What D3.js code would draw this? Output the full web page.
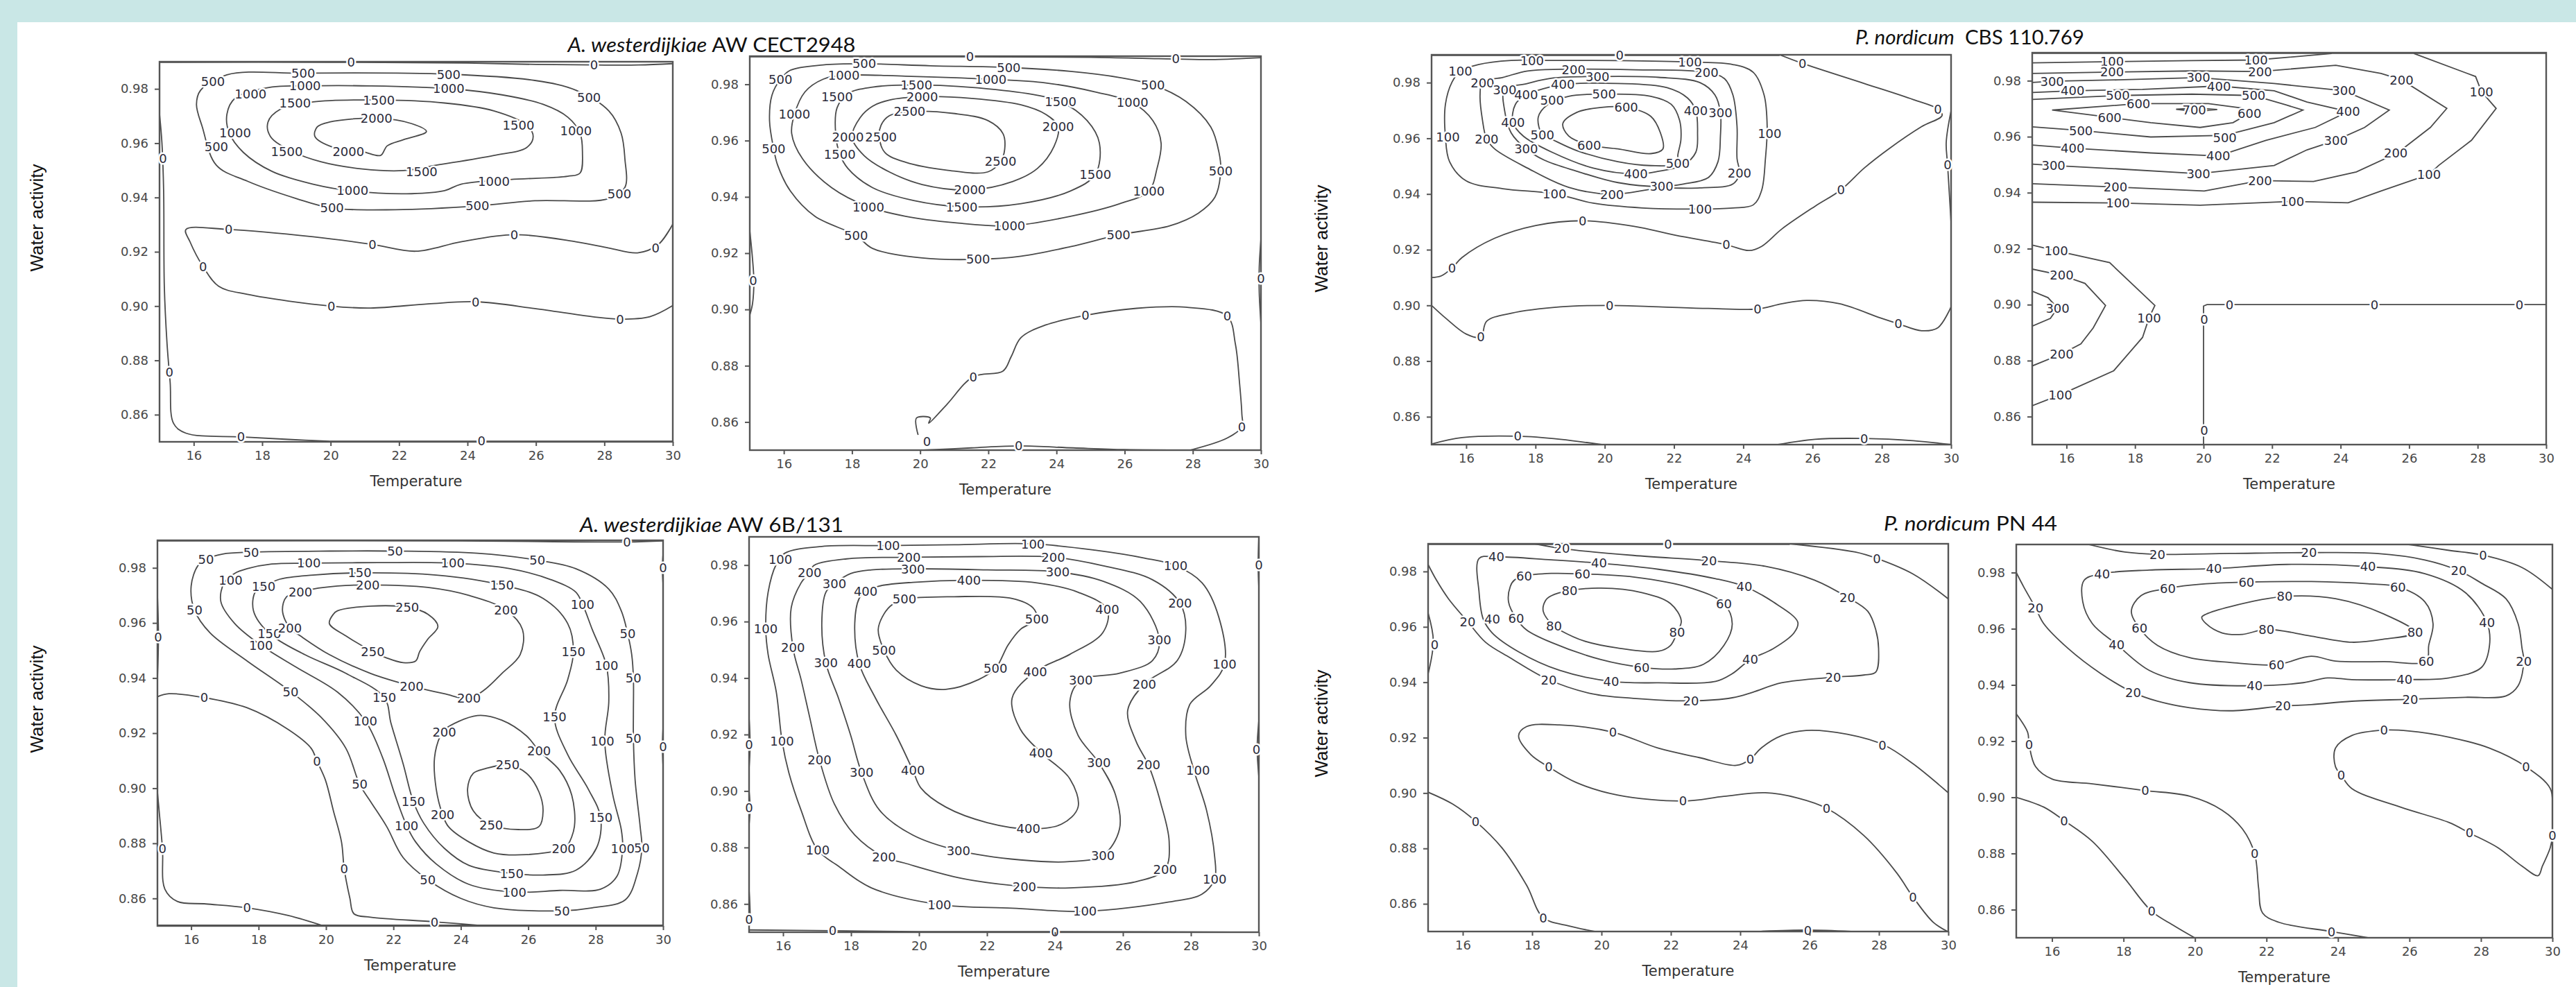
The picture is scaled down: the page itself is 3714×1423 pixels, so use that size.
<!DOCTYPE html>
<html><head><meta charset="utf-8">
<script src="https://cdn.jsdelivr.net/npm/d3@7"></script>
<style>body{margin:0;background:#fff}svg{display:block}</style>
</head><body>
<script>
// ---------------- DATA ----------------
const tempTicks = [16,18,20,22,24,26,28,30];
const awTicks = [0.86,0.88,0.90,0.92,0.94,0.96,0.98];
const tempDomain = [15,30];
const awDomain = [0.85,0.99];

const titles = [
  {it:"A. westerdijkiae", rest:" AW CECT2948"},
  {it:"P. nordicum", rest:"  CBS 110.769"},
  {it:"A. westerdijkiae", rest:" AW 6B/131"},
  {it:"P. nordicum", rest:" PN 44"}
];

// Panel A : A. westerdijkiae CECT2948 (left)
const A_contours = [
 {lv:0,p:[[15,0.9898],[20,0.9898],[24,0.9895],[26,0.989],[27.7,0.9888],[29,0.9888],[30,0.9893]]},
 {lv:500,c:1,p:[[16.97,0.9852],[19.2,0.9858],[23.45,0.9854],[25.97,0.9831],[27.17,0.9795],[28.13,0.9719],[28.49,0.9637],[28.6,0.9543],[28.6,0.9437],[28.13,0.9396],[25.97,0.9388],[24.29,0.9369],[21.89,0.9355],[20.04,0.9361],[19.0,0.9396],[17.57,0.946],[16.66,0.9519],[16.25,0.966],[16.08,0.9743],[16.2,0.9795]]},
 {lv:1000,c:1,p:[[18.29,0.9807],[19.25,0.9811],[21.17,0.9811],[23.45,0.9801],[25.01,0.9778],[26.21,0.9743],[26.93,0.9696],[27.29,0.9637],[27.36,0.9566],[27.29,0.949],[26.93,0.9478],[25.25,0.9466],[23.81,0.9449],[23.33,0.9425],[22.37,0.9414],[20.69,0.9423],[19.49,0.9449],[18.29,0.9496],[17.45,0.9566],[17.04,0.9637],[16.97,0.9707],[17.21,0.9766]]},
 {lv:1500,c:1,p:[[19.49,0.9752],[21.41,0.9759],[23.33,0.9748],[24.77,0.9719],[25.73,0.9666],[25.92,0.9625],[25.73,0.9584],[24.77,0.9555],[23.09,0.9519],[22.13,0.9499],[20.93,0.9505],[19.73,0.9531],[18.89,0.9569],[18.24,0.9625],[18.17,0.9678],[18.53,0.9725]]},
 {lv:2000,c:1,p:[[19.97,0.9678],[21.34,0.9692],[22.37,0.9672],[22.8,0.9643],[22.13,0.9613],[21.65,0.959],[21.46,0.9555],[20.93,0.9569],[20.09,0.9584],[19.54,0.9625],[19.61,0.966]]},
 {lv:0,p:[[30,0.9302],[29.57,0.9226],[28.97,0.9196],[28.13,0.9214],[27.17,0.9237],[25.37,0.9263],[23.81,0.9237],[22.49,0.9202],[21.22,0.9227],[19.49,0.9255],[17.02,0.9282],[15.77,0.9282],[15.89,0.9237],[16.27,0.9146],[16.73,0.9073],[17.57,0.9043],[20.02,0.9],[21.17,0.8993],[22.85,0.9008],[24.24,0.9016],[25.97,0.8991],[27.65,0.8961],[28.46,0.8952],[29.33,0.8961],[30,0.9002]]},
 {lv:0,p:[[15,0.9707],[15.07,0.9602],[15.12,0.9425],[15.14,0.9073],[15.22,0.8861],[15.31,0.872],[15.41,0.8568],[15.77,0.8532],[17.38,0.8518],[18.77,0.8509],[19.97,0.8502]]},
 {lv:0,p:[[19.97,0.8502],[24.4,0.8502],[30,0.8502]]}
];
const A_labels = [
 [20.6,0.9898,0],[27.7,0.9888,0],
 [16.56,0.9827,500],[19.2,0.9858,500],[23.45,0.9854,500],[27.55,0.9768,500],[28.44,0.9414,500],[24.29,0.9369,500],[20.04,0.9361,500],[16.66,0.9587,500],
 [17.66,0.978,1000],[19.25,0.9811,1000],[23.45,0.9801,1000],[27.17,0.9646,1000],[24.77,0.946,1000],[20.64,0.9425,1000],[17.21,0.9639,1000],
 [18.96,0.9748,1500],[21.41,0.9759,1500],[25.49,0.9666,1500],[18.72,0.9569,1500],[22.66,0.9496,1500],
 [21.34,0.9692,2000],[20.52,0.9569,2000],
 [17.02,0.9282,0],[21.22,0.9227,0],[25.37,0.9263,0],[29.5,0.9214,0],[16.27,0.9146,0],[20.02,0.9,0],[24.24,0.9016,0],[28.46,0.8952,0],
 [15.1,0.9543,0],[15.29,0.8756,0],[17.38,0.8518,0],[24.41,0.8503,0]
];

// Panel B : A. westerdijkiae CECT2948 (right)
const B_contours = [
 {lv:0,p:[[15,0.9898],[21,0.9898],[25,0.9896],[27,0.9891],[28.5,0.9888],[30,0.9895]]},
 {lv:500,c:1,p:[[16.19,0.985],[17.15,0.9869],[18.36,0.9873],[20.3,0.9866],[22.6,0.986],[24.41,0.9846],[25.86,0.9824],[26.83,0.9798],[27.8,0.9739],[28.53,0.9648],[28.77,0.9557],[28.82,0.9493],[28.65,0.9399],[28.16,0.9342],[27.32,0.9297],[25.82,0.9265],[24.41,0.9223],[22.96,0.9189],[21.7,0.9178],[20.06,0.9183],[18.6,0.9217],[18.12,0.9263],[16.91,0.9331],[16.19,0.9421],[15.82,0.9512],[15.7,0.9572],[15.58,0.9671],[15.65,0.9761],[15.9,0.9818]]},
 {lv:1000,c:1,p:[[17.15,0.9818],[17.76,0.9832],[19.57,0.9829],[22.07,0.9818],[23.69,0.9805],[25.14,0.9773],[26.23,0.9735],[26.83,0.9671],[27.07,0.9591],[26.95,0.9501],[26.71,0.9421],[25.86,0.9376],[24.41,0.9331],[22.62,0.9297],[21.02,0.9308],[19.57,0.9331],[18.48,0.9365],[17.4,0.9433],[16.55,0.9535],[16.23,0.9625],[16.31,0.9693],[16.62,0.9773]]},
 {lv:1500,c:1,p:[[18.6,0.979],[19.89,0.9798],[21.99,0.9784],[23.44,0.9761],[24.12,0.9739],[24.9,0.9671],[25.26,0.9591],[25.14,0.948],[24.41,0.9421],[22.96,0.9376],[21.22,0.9365],[19.81,0.9387],[18.6,0.9433],[17.88,0.9501],[17.64,0.9552],[17.52,0.9625],[17.56,0.9716],[17.88,0.9767]]},
 {lv:2000,c:1,p:[[19.09,0.9744],[20.06,0.9756],[21.51,0.975],[22.96,0.9727],[23.69,0.9693],[24.05,0.965],[23.93,0.958],[23.44,0.9501],[22.72,0.9455],[21.46,0.9425],[20.06,0.9444],[19.09,0.9489],[18.36,0.9546],[18.0,0.9612],[18.24,0.9682],[18.6,0.9722]]},
 {lv:2500,c:1,p:[[19.09,0.9688],[19.69,0.9703],[21.02,0.9696],[21.99,0.9671],[22.43,0.9625],[22.48,0.9569],[22.36,0.9526],[21.99,0.9489],[20.78,0.9495],[19.57,0.9523],[18.97,0.9557],[18.8,0.9612],[18.85,0.9654]]},
 {lv:0,p:[[15,0.928],[15.08,0.918],[15.12,0.91],[15.08,0.902],[15,0.898]]},
 {lv:0,p:[[30,0.925],[29.95,0.915],[29.95,0.906],[30,0.895]]},
 {lv:0,p:[[19.94,0.8554],[19.89,0.8614],[20.3,0.8614],[20.25,0.8596],[20.78,0.8662],[21.56,0.8761],[22.43,0.8781],[22.67,0.8832],[22.96,0.89],[23.69,0.8945],[24.85,0.8979],[26.35,0.9004],[27.8,0.9008],[29.01,0.8976],[29.25,0.8877],[29.37,0.8741],[29.44,0.8628],[29.44,0.8583],[29.01,0.8543],[27.92,0.85]]},
 {lv:0,p:[[20.1,0.85],[21.5,0.8508],[22.9,0.8515],[24.5,0.8508],[26,0.8502],[27.9,0.85]]}
];
const B_labels = [
 [21.46,0.9898,0],[27.5,0.9891,0],
 [18.36,0.9873,500],[22.6,0.986,500],[15.9,0.9818,500],[26.83,0.9798,500],[15.7,0.9572,500],[28.82,0.9493,500],[18.12,0.9263,500],[25.82,0.9265,500],[21.7,0.9178,500],
 [17.76,0.9832,1000],[22.07,0.9818,1000],[26.23,0.9735,1000],[16.31,0.9693,1000],[26.71,0.9421,1000],[18.48,0.9365,1000],[22.62,0.9297,1000],
 [19.89,0.9798,1500],[17.56,0.9756,1500],[24.12,0.9739,1500],[17.64,0.9552,1500],[25.14,0.948,1500],[21.22,0.9365,1500],
 [20.06,0.9756,2000],[24.05,0.965,2000],[17.88,0.9612,2000],[21.46,0.9425,2000],
 [19.69,0.9703,2500],[18.85,0.9612,2500],[22.36,0.9526,2500],
 [15.1,0.9102,0],[30,0.9109,0],
 [20.2,0.8531,0],[21.56,0.8761,0],[24.85,0.8979,0],[29.01,0.8976,0],[29.44,0.8583,0],[22.89,0.8515,0]
];

// Panel C : P. nordicum CBS 110.769 (left)
const C_contours = [
 {lv:0,p:[[15,0.9898],[20,0.9898],[25.05,0.9898]]},
 {lv:100,c:1,p:[[16.35,0.9865],[17.3,0.988],[18.25,0.988],[20.38,0.9879],[22.46,0.9874],[23.7,0.9865],[24.29,0.9837],[24.6,0.9756],[24.69,0.9642],[24.64,0.9527],[24.53,0.9413],[24.29,0.9361],[23.7,0.935],[22.75,0.9346],[21.09,0.935],[19.67,0.9367],[18.55,0.9401],[17.06,0.9419],[16.0,0.9447],[15.52,0.9516],[15.4,0.9605],[15.4,0.9722],[15.59,0.9802],[15.83,0.9841]]},
 {lv:200,c:1,p:[[17.06,0.9819],[17.77,0.9842],[18.72,0.9848],[20.85,0.9846],[22.94,0.9837],[23.46,0.9814],[23.7,0.9756],[23.82,0.9642],[23.82,0.9527],[23.89,0.9475],[23.7,0.9436],[22.75,0.9422],[21.56,0.942],[20.21,0.9399],[18.96,0.9424],[17.77,0.9493],[16.82,0.9562],[16.59,0.9598],[16.47,0.9665],[16.4,0.9756],[16.47,0.9802]]},
 {lv:300,c:1,p:[[17.77,0.9797],[18.48,0.9816],[19.79,0.9822],[21.56,0.9819],[22.75,0.98],[23.18,0.9756],[23.34,0.9693],[23.34,0.9608],[23.27,0.9516],[22.99,0.9459],[22.27,0.9436],[21.64,0.9427],[20.38,0.9441],[19.19,0.9482],[18.25,0.9522],[17.73,0.9562],[17.3,0.9619],[17.11,0.9699],[17.11,0.9774]]},
 {lv:400,c:1,p:[[18.25,0.9779],[18.79,0.9793],[20.38,0.9797],[21.8,0.9782],[22.39,0.9745],[22.63,0.9699],[22.68,0.9619],[22.63,0.955],[22.27,0.9504],[21.56,0.9482],[20.9,0.9472],[19.67,0.9493],[18.48,0.955],[17.65,0.9608],[17.35,0.9656],[17.42,0.9722],[17.73,0.9756]]},
 {lv:500,c:1,p:[[18.96,0.9751],[19.98,0.9759],[21.33,0.9751],[21.92,0.9722],[22.16,0.9665],[22.2,0.9596],[22.11,0.9539],[22.11,0.951],[21.33,0.9502],[20.38,0.9516],[19.19,0.9556],[18.48,0.9596],[18.2,0.9613],[18.08,0.9676],[18.36,0.9722]]},
 {lv:600,c:1,p:[[19.19,0.9693],[19.9,0.9711],[20.62,0.9711],[21.33,0.9679],[21.61,0.9619],[21.68,0.9562],[21.33,0.9545],[20.38,0.9562],[19.55,0.9576],[18.96,0.9608],[18.79,0.9653]]},
 {lv:0,p:[[25.05,0.99],[25.71,0.9869],[27.49,0.9797],[28.91,0.9739],[29.62,0.9705],[29.74,0.9682],[29.15,0.9642],[28.2,0.9562],[27.49,0.9493],[26.82,0.9415],[26.07,0.9356],[25.12,0.9275],[24.53,0.9212],[24.17,0.9197],[23.51,0.9218],[22.04,0.9252],[20.85,0.9284],[19.36,0.9304],[18.01,0.9287],[16.82,0.9241],[15.88,0.9172],[15.59,0.9134],[15.28,0.9106],[15.0,0.91]]},
 {lv:0,p:[[30,0.9699],[29.86,0.9585],[29.9,0.9504],[30,0.9297]]},
 {lv:0,p:[[15,0.9],[15.4,0.8955],[16.0,0.8897],[16.42,0.8886],[16.59,0.8943],[17.3,0.8972],[18.72,0.8995],[20.14,0.9],[21.56,0.8995],[22.99,0.8989],[24.41,0.8987],[25.12,0.9006],[25.83,0.9018],[26.78,0.9006],[27.96,0.8955],[28.48,0.8934],[29.15,0.8909],[29.62,0.892],[30,0.8995]]},
 {lv:0,p:[[15,0.8502],[15.88,0.8525],[17.49,0.853],[18.72,0.8519],[19.91,0.85]]},
 {lv:0,p:[[25.0,0.85],[26.07,0.8519],[27.49,0.8522],[28.91,0.8514],[30,0.85]]}
];
const C_labels = [
 [20.43,0.9898,0],
 [17.9,0.988,100],[22.46,0.9874,100],[15.83,0.9841,100],[15.47,0.9605,100],[24.76,0.9617,100],[18.55,0.9401,100],[22.75,0.9346,100],
 [19.1,0.9847,200],[22.94,0.9837,200],[16.47,0.98,200],[16.59,0.9598,200],[23.89,0.9475,200],[20.21,0.9399,200],
 [19.79,0.9822,300],[17.11,0.9774,300],[23.34,0.9693,300],[17.73,0.9562,300],[21.64,0.9427,300],
 [18.79,0.9793,400],[17.73,0.9756,400],[22.63,0.9699,400],[17.35,0.9656,400],[20.9,0.9472,400],
 [19.98,0.9759,500],[18.48,0.9736,500],[18.2,0.9613,500],[22.11,0.951,500],
 [20.62,0.9711,600],[19.55,0.9576,600],
 [25.71,0.9869,0],[29.62,0.9705,0],[26.82,0.9415,0],[23.51,0.9218,0],[19.36,0.9304,0],[15.59,0.9134,0],[29.9,0.9504,0],
 [16.42,0.8887,0],[20.14,0.9,0],[24.41,0.8987,0],[28.48,0.8934,0],[17.49,0.853,0],[27.49,0.8522,0]
];

// Panel D : P. nordicum CBS 110.769 (right)
const D_contours = [
 {lv:0,p:[[15,0.9898],[30,0.9898]]},
 {lv:100,p:[[15,0.9864],[17.33,0.9868],[19.66,0.9872],[21.53,0.9874],[23.74,0.9897]]},
 {lv:100,p:[[26.14,0.9897],[27.94,0.9815],[28.11,0.9761],[28.54,0.9701],[27.82,0.9587],[26.86,0.9497],[26.58,0.9465],[25.18,0.9406],[24.22,0.9364],[22.59,0.9369],[19.9,0.9355],[17.5,0.9363],[15,0.9366]]},
 {lv:200,p:[[15,0.9826],[17.33,0.9831],[19.66,0.9835],[21.65,0.9833],[23.86,0.9855],[25.18,0.9826],[25.78,0.9803],[27.1,0.9701],[26.62,0.9633],[25.66,0.9542],[24.46,0.9474],[23.21,0.944],[21.65,0.9443],[20.02,0.9406],[17.43,0.942],[15,0.9432]]},
 {lv:300,p:[[15,0.9794],[15.58,0.9798],[17.5,0.9803],[19.85,0.9811],[22.06,0.979],[24.1,0.9764],[25.42,0.9695],[24.7,0.9633],[23.86,0.9587],[23.02,0.9553],[22.06,0.9497],[19.85,0.9468],[17.5,0.9485],[15.62,0.9497],[15,0.9502]]},
 {lv:400,p:[[15,0.9758],[16.18,0.9764],[18.22,0.9769],[20.45,0.9781],[22.06,0.9764],[23.02,0.9724],[24.22,0.969],[23.26,0.9633],[21.82,0.9587],[20.43,0.9531],[18.46,0.9542],[16.18,0.9559],[15,0.957]]},
 {lv:500,p:[[15,0.9733],[17.5,0.9747],[19.66,0.9752],[21.46,0.9747],[22.42,0.9713],[22.9,0.9695],[22.06,0.965],[20.62,0.9605],[18.46,0.9599],[16.42,0.9622],[15,0.9635]]},
 {lv:600,c:1,p:[[15.58,0.9695],[18.1,0.9718],[20.14,0.9718],[21.1,0.9703],[21.34,0.9684],[20.86,0.965],[19.9,0.9633],[18.46,0.965],[17.26,0.9669]]},
 {lv:700,c:1,p:[[19.2,0.9698],[19.8,0.9702],[20.4,0.9697],[19.8,0.969]]},
 {lv:100,p:[[15,0.9213],[15.7,0.9192],[17.26,0.915],[18.58,0.8997],[18.41,0.8953],[18.22,0.8883],[17.38,0.8764],[15.82,0.8678],[15,0.8639]]},
 {lv:200,p:[[15,0.9127],[15.86,0.9105],[16.54,0.9076],[17.14,0.8997],[16.78,0.8917],[16.42,0.886],[15.86,0.8824],[15,0.8781]]},
 {lv:300,p:[[15,0.9048],[15.46,0.9025],[15.74,0.8988],[15.53,0.8951],[15,0.8923]]},
 {lv:0,p:[[20,0.85],[20,0.8995],[20.1,0.9],[30,0.9]]}
];
const D_labels = [
 [17.33,0.9868,100],[21.53,0.9874,100],[28.11,0.9761,100],[26.58,0.9465,100],[22.59,0.9369,100],[17.5,0.9363,100],
 [17.33,0.9831,200],[21.65,0.9833,200],[25.78,0.9803,200],[25.61,0.9542,200],[21.65,0.9443,200],[17.43,0.942,200],
 [15.58,0.9798,300],[19.85,0.9811,300],[24.1,0.9764,300],[23.86,0.9587,300],[19.85,0.9468,300],[15.62,0.9497,300],
 [16.18,0.9764,400],[20.45,0.9781,400],[24.22,0.969,400],[20.43,0.9531,400],[16.18,0.9559,400],
 [17.5,0.9747,500],[21.46,0.9747,500],[20.62,0.9596,500],[16.42,0.9622,500],
 [18.1,0.9718,600],[21.34,0.9684,600],[17.26,0.9669,600],
 [19.73,0.9695,700],
 [15.7,0.9192,100],[18.41,0.8953,100],[15.82,0.8678,100],
 [15.86,0.9105,200],[15.86,0.8824,200],[15.74,0.8988,300],
 [20.02,0.8948,0],[20.02,0.8551,0],[20.76,0.9,0],[24.99,0.9,0],[29.22,0.9,0]
];

// Panel E : A. westerdijkiae 6B/131 (left)
const E_contours = [
 {lv:0,p:[[15,0.9898],[24,0.9898],[28.9,0.9894],[30,0.9898]]},
 {lv:50,c:1,p:[[16.44,0.9831],[16.93,0.985],[17.78,0.9857],[20.1,0.9861],[22.05,0.9861],[24.49,0.9853],[26.27,0.9828],[27.41,0.9797],[28.39,0.9723],[28.76,0.9644],[28.95,0.9561],[29.07,0.9485],[29.12,0.94],[29.12,0.9281],[29.12,0.9181],[29.17,0.9031],[29.32,0.8861],[29.37,0.8784],[29.24,0.8691],[28.88,0.8595],[27.9,0.8566],[27.0,0.8555],[24.98,0.8566],[24.0,0.86],[23.02,0.8668],[22.29,0.8748],[21.8,0.8861],[21.32,0.8952],[21.0,0.9014],[20.59,0.9145],[19.85,0.9258],[18.95,0.9351],[17.66,0.9462],[16.56,0.9564],[16.1,0.9646],[16.0,0.9734],[16.2,0.9808]]},
 {lv:100,c:1,p:[[17.66,0.9797],[18.39,0.9814],[19.49,0.9817],[21.56,0.9819],[23.76,0.9817],[25.46,0.9797],[26.68,0.9757],[27.41,0.9712],[27.61,0.9668],[27.9,0.9576],[28.32,0.9445],[28.39,0.9315],[28.27,0.917],[28.51,0.8975],[28.76,0.885],[28.8,0.8782],[28.63,0.868],[28.15,0.8634],[26.93,0.8629],[25.59,0.8623],[24.24,0.8651],[23.27,0.8725],[22.66,0.8805],[22.39,0.8865],[22.05,0.8975],[21.68,0.9111],[21.17,0.9244],[20.34,0.9349],[19.12,0.9439],[18.07,0.9519],[17.29,0.9598],[16.88,0.9678],[16.98,0.9746],[17.29,0.978]]},
 {lv:150,c:1,p:[[18.63,0.9759],[19.61,0.9774],[21.0,0.9782],[23.27,0.9774],[25.22,0.9738],[26.44,0.9689],[27.17,0.9598],[27.34,0.9496],[27.17,0.9394],[26.78,0.9258],[27.17,0.9122],[27.78,0.8997],[28.15,0.8893],[28.02,0.8782],[27.41,0.8702],[26.44,0.8685],[25.51,0.8691],[24.24,0.872],[23.51,0.8782],[22.9,0.8873],[22.59,0.8952],[22.29,0.9088],[21.93,0.9235],[21.73,0.9329],[20.59,0.9417],[19.37,0.9485],[18.32,0.9562],[17.85,0.9644],[17.9,0.9712],[18.15,0.9732]]},
 {lv:200,c:1,p:[[19.61,0.9723],[20.34,0.9734],[21.24,0.9738],[23.02,0.9729],[24.24,0.97],[25.34,0.9647],[25.83,0.9576],[25.76,0.9485],[25.22,0.9417],[24.73,0.936],[24.24,0.9326],[23.51,0.9343],[22.54,0.9371],[21.32,0.9417],[20.1,0.9485],[19.24,0.9553],[18.93,0.9581],[18.71,0.9644],[18.83,0.9695],[19.24,0.9712]]},
 {lv:250,c:1,p:[[20.34,0.9644],[21.32,0.9661],[22.41,0.9657],[23.02,0.9632],[23.32,0.9587],[23.02,0.9541],[22.78,0.9496],[22.66,0.9462],[22.29,0.9456],[21.8,0.9473],[21.39,0.9496],[20.59,0.9553],[20.1,0.9598],[20.22,0.9632]]},
 {lv:200,c:1,p:[[23.51,0.9213],[24.49,0.9264],[25.22,0.9247],[25.95,0.919],[26.32,0.9136],[26.93,0.9065],[27.29,0.8975],[27.37,0.8861],[27.17,0.8793],[27.05,0.878],[25.95,0.8759],[24.98,0.8765],[24.24,0.8805],[23.63,0.8861],[23.46,0.8904],[23.27,0.8997],[23.22,0.9111],[23.39,0.919]]},
 {lv:250,c:1,p:[[24.73,0.9071],[25.39,0.9085],[25.95,0.9054],[26.32,0.8986],[26.44,0.8918],[26.32,0.8861],[25.71,0.885],[24.9,0.8867],[24.37,0.8918],[24.2,0.8997],[24.37,0.9054]]},
 {lv:0,p:[[30,0.985],[29.98,0.98],[30,0.974]]},
 {lv:0,p:[[30,0.922],[29.98,0.915],[30,0.908]]},
 {lv:0,p:[[15,0.97],[15.03,0.955],[15,0.94]]},
 {lv:0,p:[[15,0.9332],[15.34,0.9343],[16.39,0.9329],[17.66,0.9292],[18.88,0.9213],[19.56,0.9145],[19.73,0.9099],[19.98,0.9031],[20.22,0.8918],[20.46,0.8805],[20.54,0.8708],[20.71,0.86],[20.83,0.8544],[21.32,0.8532],[23.22,0.8515],[24.98,0.8498]]},
 {lv:0,p:[[15,0.8986],[15.05,0.8918],[15.15,0.878],[15.22,0.8634],[15.59,0.8589],[16.44,0.858],[17.66,0.8566],[18.88,0.8538],[19.98,0.8498]]},
 {lv:0,p:[[15,0.8503],[30,0.8503]]}
];
const E_labels = [
 [28.93,0.9894,0],[30,0.98,0],[30,0.915,0],[15.02,0.955,0],
 [17.78,0.9857,50],[22.05,0.9861,50],[16.44,0.9831,50],[26.27,0.9828,50],[16.1,0.9646,50],[28.95,0.9561,50],[29.12,0.94,50],[18.95,0.9351,50],[29.12,0.9181,50],[21.0,0.9014,50],[29.37,0.8784,50],[23.02,0.8668,50],[27.0,0.8555,50],
 [19.49,0.9817,100],[23.76,0.9817,100],[17.17,0.9755,100],[27.61,0.9668,100],[18.07,0.9519,100],[28.32,0.9445,100],[21.17,0.9244,100],[28.2,0.917,100],[22.39,0.8865,100],[28.8,0.8782,100],[25.59,0.8623,100],
 [21.0,0.9782,150],[18.15,0.9732,150],[25.22,0.9738,150],[18.32,0.9562,150],[27.34,0.9496,150],[21.73,0.9329,150],[26.78,0.9258,150],[22.59,0.8952,150],[28.15,0.8893,150],[25.51,0.8691,150],
 [21.24,0.9738,200],[19.24,0.9712,200],[25.34,0.9647,200],[18.93,0.9581,200],[22.54,0.9371,200],[24.24,0.9326,200],
 [22.41,0.9657,250],[21.39,0.9496,250],
 [23.51,0.9204,200],[26.32,0.9136,200],[27.05,0.878,200],[23.46,0.8904,200],
 [25.39,0.9085,250],[24.9,0.8867,250],
 [16.39,0.9329,0],[19.73,0.9099,0],[20.54,0.8708,0],[23.22,0.8515,0],[15.15,0.878,0],[17.66,0.8566,0]
];

// Panel F : A. westerdijkiae 6B/131 (right)
const F_contours = [
 {lv:100,c:1,p:[[16.05,0.9842],[17.14,0.9866],[19.09,0.9869],[21.03,0.9872],[23.35,0.9875],[25.17,0.9853],[26.63,0.9825],[27.55,0.9798],[28.33,0.9737],[28.82,0.9616],[28.99,0.945],[28.58,0.9373],[27.97,0.9307],[27.85,0.9197],[28.09,0.9073],[28.46,0.8932],[28.7,0.8767],[28.7,0.8689],[28.33,0.8635],[27.36,0.8607],[24.88,0.8574],[22.74,0.8585],[20.6,0.8598],[18.6,0.8657],[17.63,0.8734],[17.02,0.8791],[16.53,0.8932],[16.17,0.9065],[15.97,0.9177],[15.8,0.9351],[15.56,0.9484],[15.49,0.9575],[15.56,0.9704],[15.8,0.9803]]},
 {lv:200,c:1,p:[[16.9,0.9798],[17.87,0.9822],[19.7,0.9828],[21.76,0.983],[23.95,0.9828],[25.41,0.9798],[26.87,0.9748],[27.68,0.9665],[27.85,0.9572],[27.6,0.9462],[26.63,0.9379],[26.14,0.9285],[26.39,0.9175],[26.75,0.9092],[27.12,0.8954],[27.36,0.8822],[27.24,0.8723],[26.39,0.8679],[24.44,0.8657],[23.1,0.8662],[21.28,0.869],[19.57,0.8745],[18.97,0.8767],[18.11,0.8844],[17.51,0.8954],[17.07,0.9111],[16.78,0.9263],[16.53,0.9395],[16.29,0.9508],[16.24,0.9649],[16.53,0.9737],[16.78,0.9774]]},
 {lv:300,c:1,p:[[17.99,0.977],[18.6,0.9783],[19.82,0.9787],[22.01,0.9783],[24.08,0.9776],[25.41,0.9743],[26.51,0.9671],[27.07,0.9535],[26.87,0.9462],[25.9,0.9417],[24.76,0.9392],[24.44,0.9318],[24.68,0.9197],[25.29,0.91],[25.78,0.8987],[25.9,0.8866],[25.41,0.8772],[24.44,0.875],[22.98,0.8756],[21.16,0.8789],[19.82,0.8844],[18.84,0.8932],[18.31,0.9065],[17.99,0.9197],[17.63,0.9329],[17.26,0.9453],[17.14,0.9594],[17.26,0.9704],[17.51,0.9734]]},
 {lv:400,c:1,p:[[18.84,0.9726],[19.82,0.9739],[21.47,0.9746],[23.47,0.9737],[24.68,0.9704],[25.54,0.9643],[25.41,0.9561],[24.44,0.9484],[23.42,0.9423],[22.74,0.9329],[22.98,0.9219],[23.59,0.9136],[24.44,0.9043],[24.68,0.8943],[24.2,0.8883],[23.22,0.8866],[22.01,0.8888],[20.79,0.8943],[20.06,0.901],[19.82,0.9073],[19.33,0.9197],[18.72,0.9329],[18.24,0.9451],[18.11,0.9594],[18.24,0.9682],[18.43,0.9707]]},
 {lv:500,c:1,p:[[19.21,0.966],[19.57,0.9679],[21.03,0.9688],[22.74,0.9682],[23.35,0.9649],[23.47,0.961],[22.98,0.9572],[22.62,0.9517],[22.25,0.9434],[21.76,0.9395],[20.79,0.936],[20.06,0.9373],[19.33,0.9428],[18.97,0.9498],[18.8,0.9572],[18.97,0.9627]]},
 {lv:0,p:[[30,0.99],[29.98,0.98],[30,0.972]]},
 {lv:0,p:[[30,0.925],[29.95,0.915],[30,0.905]]},
 {lv:0,p:[[15,0.926],[15.03,0.9164],[15,0.908]]},
 {lv:0,p:[[15,0.9],[15.03,0.894],[15,0.888]]},
 {lv:0,p:[[15,0.865],[15.03,0.855],[15,0.852]]},
 {lv:0,p:[[15,0.8508],[17.5,0.8505],[20,0.8502],[24,0.8502],[30,0.85]]}
];
const F_labels = [
 [19.09,0.9869,100],[23.35,0.9875,100],[15.92,0.982,100],[27.55,0.9798,100],[15.49,0.9575,100],[28.99,0.945,100],[15.97,0.9177,100],[28.21,0.9073,100],[17.02,0.8791,100],[28.7,0.8689,100],[20.6,0.8598,100],[24.88,0.8574,100],
 [19.7,0.9828,200],[23.95,0.9828,200],[16.78,0.9774,200],[27.68,0.9665,200],[16.29,0.9508,200],[26.63,0.9379,200],[17.07,0.9111,200],[26.75,0.9092,200],[18.97,0.8767,200],[27.24,0.8723,200],[23.1,0.8662,200],
 [19.82,0.9787,300],[24.08,0.9776,300],[17.51,0.9734,300],[27.07,0.9535,300],[17.26,0.9453,300],[24.76,0.9392,300],[18.31,0.9065,300],[25.29,0.91,300],[21.16,0.8789,300],[25.41,0.8772,300],
 [21.47,0.9746,400],[18.43,0.9707,400],[25.54,0.9643,400],[18.24,0.9451,400],[23.42,0.9423,400],[23.59,0.9136,400],[19.82,0.9073,400],[23.22,0.8866,400],
 [19.57,0.9679,500],[23.47,0.961,500],[18.97,0.9498,500],[22.25,0.9434,500],
 [30,0.98,0],[29.93,0.9147,0],[15,0.9164,0],[15,0.894,0],[15,0.8546,0],[17.46,0.8505,0],[24.0,0.8502,0]
];

// Panel G : P. nordicum PN 44 (left)
const G_contours = [
 {lv:0,p:[[15,0.9898],[21.9,0.9898],[25.43,0.9898]]},
 {lv:0,p:[[25.43,0.99],[27.32,0.987],[27.94,0.9847],[28.98,0.9791],[30,0.9701]]},
 {lv:20,p:[[18.08,0.99],[18.86,0.9883],[20.92,0.9858],[23.1,0.9839],[24.72,0.9819],[26.14,0.9769],[27.09,0.9707],[27.68,0.9656],[27.91,0.9589],[27.99,0.9521],[27.91,0.9437],[27.56,0.9426],[26.68,0.9418],[25.19,0.9398],[24.36,0.9364],[23.77,0.9344],[22.58,0.9333],[20.92,0.9342],[19.74,0.9358],[18.48,0.9409],[17.37,0.9488],[16.66,0.9544],[16.14,0.9619],[15.59,0.9701],[15.24,0.9769],[15.0,0.9825]]},
 {lv:40,c:1,p:[[16.47,0.9847],[16.97,0.9853],[18.55,0.9842],[19.93,0.983],[21.64,0.9808],[23.29,0.9774],[24.12,0.9746],[24.95,0.969],[25.66,0.9617],[25.55,0.9578],[24.95,0.9521],[24.29,0.9482],[23.77,0.9431],[23.29,0.9403],[21.64,0.9398],[20.28,0.9403],[18.79,0.9443],[17.61,0.951],[16.85,0.9578],[16.59,0.9628],[16.47,0.9724]]},
 {lv:60,c:1,p:[[17.49,0.9769],[17.77,0.9783],[18.55,0.9793],[19.45,0.9791],[20.92,0.978],[22.58,0.974],[23.53,0.9684],[23.77,0.9611],[23.53,0.9533],[22.94,0.9465],[22.11,0.9448],[21.16,0.9454],[19.98,0.9482],[18.55,0.9544],[17.84,0.9589],[17.54,0.9631],[17.32,0.969],[17.37,0.9746]]},
 {lv:80,c:1,p:[[18.55,0.9712],[19.08,0.9731],[19.98,0.974],[21.16,0.9724],[21.99,0.9684],[22.3,0.9622],[22.18,0.958],[21.99,0.9533],[21.64,0.9512],[20.45,0.9524],[19.5,0.9549],[18.79,0.9589],[18.63,0.9602],[18.32,0.9656],[18.39,0.9696]]},
 {lv:0,p:[[15,0.965],[15.15,0.955],[15,0.943]]},
 {lv:0,p:[[30,0.9001],[28.98,0.9106],[28.15,0.9173],[27.09,0.9212],[25.9,0.9226],[25.19,0.9207],[24.6,0.9162],[24.29,0.9122],[23.89,0.91],[22.82,0.9128],[21.64,0.9162],[20.33,0.922],[18.79,0.9246],[17.84,0.924],[17.61,0.9207],[17.96,0.9139],[18.48,0.9094],[19.27,0.9038],[20.45,0.8993],[22.35,0.8971],[23.53,0.8988],[24.72,0.9001],[25.66,0.8982],[26.49,0.8945],[27.56,0.8847],[28.51,0.8712],[28.98,0.8625],[29.57,0.8533],[30,0.8499]]},
 {lv:0,p:[[15,0.9003],[15.71,0.896],[16.37,0.8898],[17.13,0.8802],[17.84,0.8667],[18.32,0.855],[19.03,0.8521],[19.86,0.8499]]},
 {lv:0,p:[[24.5,0.85],[25.95,0.8505],[27.2,0.85]]}
];
const G_labels = [
 [21.92,0.9898,0],[27.94,0.9847,0],[15.19,0.9536,0],
 [18.86,0.9883,20],[23.1,0.9839,20],[16.14,0.9619,20],[27.09,0.9707,20],[18.48,0.9409,20],[26.68,0.9418,20],[22.58,0.9333,20],
 [16.97,0.9853,40],[19.93,0.983,40],[24.12,0.9746,40],[16.85,0.9628,40],[24.29,0.9482,40],[20.28,0.9403,40],
 [17.77,0.9783,60],[19.45,0.9791,60],[23.53,0.9684,60],[17.54,0.9631,60],[21.16,0.9454,60],
 [19.08,0.9731,80],[18.63,0.9602,80],[22.18,0.958,80],
 [28.1,0.9173,0],[24.29,0.9122,0],[20.33,0.922,0],[18.48,0.9094,0],[22.35,0.8971,0],[26.49,0.8945,0],[28.98,0.8625,0],
 [16.37,0.8898,0],[18.32,0.855,0],[25.95,0.8504,0]
];

// Panel H : P. nordicum PN 44 (right)
const H_contours = [
 {lv:20,p:[[17.02,0.99],[18.04,0.9873],[18.95,0.9865],[20.99,0.9868],[23.19,0.9871],[25.07,0.9868],[26.43,0.9845],[27.38,0.9807],[28.02,0.9762],[28.7,0.9707],[29.04,0.9618],[29.15,0.953],[29.2,0.9485],[29.04,0.9397],[28.7,0.9361],[27.56,0.9356],[26.02,0.9349],[24.39,0.9342],[23.25,0.933],[22.46,0.9325],[20.99,0.9308],[19.85,0.9319],[18.95,0.9342],[18.27,0.9373],[17.36,0.9441],[16.45,0.953],[15.77,0.9618],[15.54,0.9674],[15.2,0.9751],[15,0.98]]},
 {lv:40,c:1,p:[[16.9,0.9773],[17.4,0.9796],[18.72,0.9809],[20.53,0.9814],[22.57,0.9829],[24.84,0.9821],[26.43,0.9796],[27.56,0.9729],[28.17,0.9622],[28.24,0.9541],[28.02,0.9463],[27.11,0.9425],[25.86,0.9419],[24.39,0.9419],[23.71,0.9425],[23.03,0.9408],[21.67,0.9397],[19.85,0.9408],[18.72,0.9452],[17.81,0.9544],[17.13,0.9618],[16.86,0.9696]]},
 {lv:60,c:1,p:[[18.49,0.9718],[19.24,0.9744],[20.31,0.976],[21.44,0.9766],[23.25,0.9768],[24.84,0.976],[25.68,0.9749],[26.43,0.9696],[26.66,0.9618],[26.54,0.9541],[26.47,0.9485],[25.29,0.9483],[23.93,0.9485],[23.25,0.9502],[22.28,0.9472],[20.99,0.948],[19.85,0.9497],[18.95,0.9541],[18.45,0.9602],[18.22,0.9663]]},
 {lv:80,c:1,p:[[20.31,0.9652],[20.99,0.9679],[22.51,0.9715],[23.93,0.9707],[25.29,0.9652],[26.16,0.9587],[25.29,0.9563],[24.39,0.9552],[23.25,0.9574],[22.0,0.9598],[21.33,0.958],[20.76,0.9585],[20.31,0.9618],[20.19,0.9641]]},
 {lv:0,p:[[25.98,0.99],[27.11,0.9879],[28.06,0.9862],[29.15,0.9818],[30,0.974]]},
 {lv:0,p:[[15,0.9297],[15.32,0.9231],[15.36,0.9187],[15.54,0.9109],[16.0,0.9065],[17.13,0.9048],[18.61,0.9024],[19.85,0.9004],[20.76,0.8954],[21.33,0.8887],[21.67,0.8799],[21.78,0.8677],[21.89,0.8588],[22.35,0.8555],[23.82,0.8522],[24.84,0.85]]},
 {lv:0,p:[[15,0.9],[15.77,0.8965],[16.34,0.8917],[17.13,0.8843],[18.04,0.871],[18.79,0.8594],[19.4,0.8544],[19.99,0.85]]},
 {lv:0,c:1,p:[[25.29,0.9239],[24.39,0.922],[23.93,0.9175],[23.93,0.9109],[24.09,0.9079],[24.39,0.9031],[25.75,0.8965],[27.11,0.891],[27.68,0.8873],[28.47,0.8821],[29.15,0.8755],[29.6,0.8721],[29.72,0.8755],[29.94,0.8821],[30,0.8865],[30,0.8954],[29.94,0.9031],[29.26,0.9109],[28.24,0.9175],[27.11,0.9214],[25.98,0.9236]]}
];
const H_labels = [
 [18.95,0.9865,20],[23.19,0.9871,20],[27.38,0.9807,20],[15.54,0.9674,20],[29.2,0.9485,20],[18.27,0.9373,20],[26.02,0.9349,20],[22.46,0.9325,20],
 [17.4,0.9796,40],[20.53,0.9814,40],[24.84,0.9821,40],[28.17,0.9622,40],[17.81,0.9544,40],[25.86,0.9419,40],[21.67,0.9397,40],
 [19.24,0.9744,60],[21.44,0.9766,60],[25.68,0.9749,60],[18.45,0.9602,60],[26.47,0.9485,60],[22.28,0.9472,60],
 [22.51,0.9715,80],[22.0,0.9598,80],[26.16,0.9587,80],
 [28.06,0.9862,0],[15.36,0.9187,0],[18.61,0.9024,0],[21.67,0.8799,0],[23.82,0.8522,0],[16.34,0.8917,0],[18.79,0.8594,0],
 [25.29,0.9239,0],[24.09,0.9079,0],[27.68,0.8873,0],[30,0.8865,0],[29.26,0.9109,0]
];

// ---------------- LAYOUT ----------------
const W = 3714, H = 1423;
const panels = [
 {c:A_contours,l:A_labels,x0:230,x1:970,y0:89,y1:637,wa:[53,314]},
 {c:B_contours,l:B_labels,x0:1081,x1:1818,y0:81,y1:649},
 {c:C_contours,l:C_labels,x0:2064,x1:2813,y0:79,y1:641,wa:[1905,344]},
 {c:D_contours,l:D_labels,x0:2930,x1:3671,y0:76,y1:641,lin:true},
 {c:E_contours,l:E_labels,x0:227,x1:956,y0:779,y1:1335,wa:[53,1008]},
 {c:F_contours,l:F_labels,x0:1080,x1:1815,y0:774,y1:1344},
 {c:G_contours,l:G_labels,x0:2059,x1:2809,y0:784,y1:1343,wa:[1905,1043]},
 {c:H_contours,l:H_labels,x0:2907,x1:3680,y0:785,y1:1352}
];
const titlePos = [
 {x:1026,y:64,w:415},{x:2840,y:53,w:330},{x:1026,y:756,w:380},{x:2841,y:754,w:250}
];

const svg = d3.select("body").append("svg").attr("width",W).attr("height",H);
svg.append("rect").attr("width",W).attr("height",H).attr("fill","#c9e7e6");
svg.append("rect").attr("x",25).attr("y",32).attr("width",W-25).attr("height",H-32).attr("fill","#fff");

const defs = svg.append("defs");

panels.forEach((P,i)=>{
  const x = d3.scaleLinear().domain(tempDomain).range([P.x0,P.x1]);
  const y = d3.scaleLinear().domain(awDomain).range([P.y1,P.y0]);
  const g = svg.append("g");
  defs.append("clipPath").attr("id","clip"+i).append("rect")
    .attr("x",P.x0).attr("y",P.y0).attr("width",P.x1-P.x0).attr("height",P.y1-P.y0);
  const cg = g.append("g").attr("clip-path",`url(#clip${i})`);
  cg.selectAll("path").data(P.c).join("path")
    .attr("d",d=>{
      let curve;
      if(P.lin) curve = d.c ? d3.curveLinearClosed : d3.curveLinear;
      else curve = d.c ? d3.curveCatmullRomClosed.alpha(0.5) : d3.curveCatmullRom.alpha(0.5);
      return d3.line().x(p=>x(p[0])).y(p=>y(p[1])).curve(curve)(d.p);
    })
    .attr("fill","none").attr("stroke","#4a4a4a").attr("stroke-width",1.8);
  g.append("rect").attr("x",P.x0).attr("y",P.y0).attr("width",P.x1-P.x0).attr("height",P.y1-P.y0)
    .attr("fill","none").attr("stroke","#555").attr("stroke-width",2.4);
  g.append("g").selectAll("text").data(P.l).join("text")
    .attr("x",d=>x(d[0])).attr("y",d=>y(d[1]))
    .attr("text-anchor","middle").attr("dominant-baseline","central")
    .attr("font-family","DejaVu Sans, Liberation Sans, sans-serif").attr("font-size",18)
    .attr("fill","#2b2b3a").attr("stroke","#fff").attr("stroke-width",5)
    .attr("paint-order","stroke").attr("stroke-linejoin","round")
    .text(d=>d[2]);
  const ax = g.append("g").attr("transform",`translate(0,${P.y1})`)
    .call(d3.axisBottom(x).tickValues(tempTicks).tickSize(6).tickSizeOuter(0).tickPadding(7));
  const ay = g.append("g").attr("transform",`translate(${P.x0},0)`)
    .call(d3.axisLeft(y).tickValues(awTicks).tickFormat(d3.format(".2f")).tickSize(7).tickSizeOuter(0).tickPadding(9));
  [ax,ay].forEach(a=>{
    a.select(".domain").remove();
    a.selectAll(".tick line").attr("stroke","#555").attr("stroke-width",2);
    a.selectAll(".tick text").attr("font-family","DejaVu Sans, Liberation Sans, sans-serif")
      .attr("font-size",18).attr("fill","#484848");
  });
  g.append("text").attr("x",(P.x0+P.x1)/2).attr("y",P.y1+57)
    .attr("text-anchor","middle").attr("dominant-baseline","central")
    .attr("font-family","DejaVu Sans, Liberation Sans, sans-serif").attr("font-size",21)
    .attr("fill","#333").text("Temperature");
  if(P.wa){
    g.append("text").attr("transform",`translate(${P.wa[0]},${P.wa[1]}) rotate(-90)`)
      .attr("text-anchor","middle").attr("dominant-baseline","central")
      .attr("font-family","Liberation Sans, Arial, sans-serif").attr("font-size",26)
      .attr("fill","#111").text("Water activity");
  }
});

titles.forEach((t,i)=>{
  const p = titlePos[i];
  const tx = svg.append("text").attr("x",p.x).attr("y",p.y)
    .attr("text-anchor","middle").attr("dominant-baseline","central")
    .attr("font-family","Lato, Open Sans, sans-serif").attr("font-size",28).attr("fill","#111")
    .attr("textLength",p.w).attr("lengthAdjust","spacingAndGlyphs")
    .attr("xml:space","preserve");
  tx.append("tspan").attr("font-style","italic").text(t.it);
  tx.append("tspan").text(t.rest);
});
</script>
</body></html>
